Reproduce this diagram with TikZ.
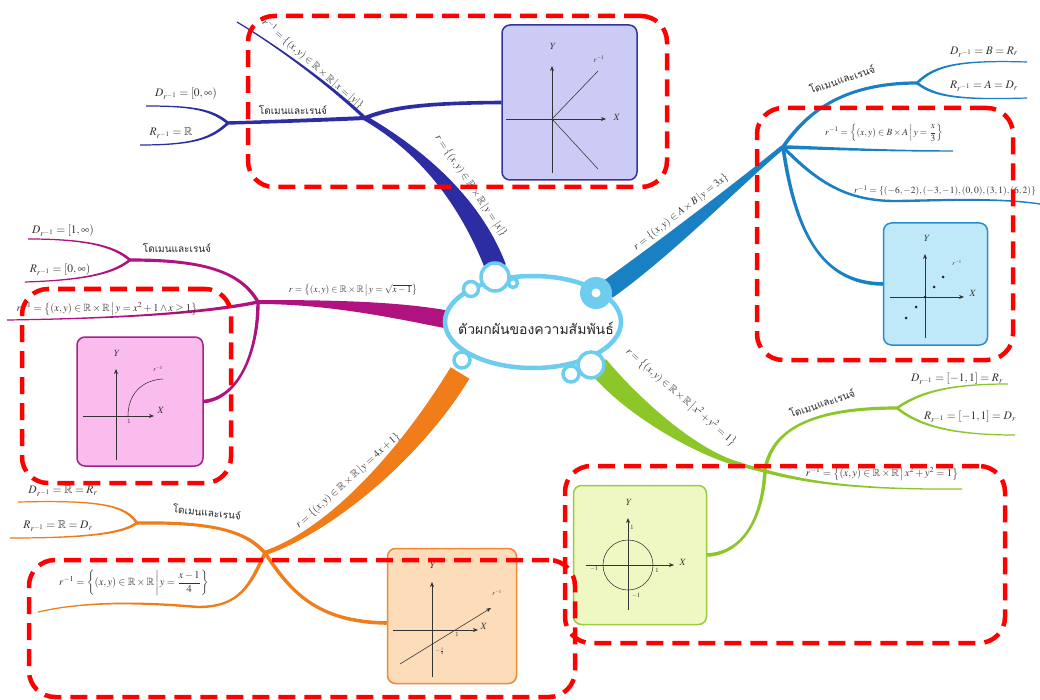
\documentclass[tikz,border=0pt]{standalone}
\usepackage{amsmath,amssymb}
\usepackage{mathptmx}
\usepackage{fontspec}
\newfontfamily\thaifont[Script=Thai]{Loma}
\usetikzlibrary{calc,arrows.meta,shapes.geometric}

\definecolor{navyC}{HTML}{2D2DA3}
\definecolor{navyBox}{HTML}{CBCBF6}
\definecolor{navyEdge}{HTML}{34349A}
\definecolor{blueC}{HTML}{1A80C4}
\definecolor{blueBox}{HTML}{BFE8F9}
\definecolor{blueEdge}{HTML}{2B8FCB}
\definecolor{magC}{HTML}{B0127F}
\definecolor{magBox}{HTML}{F9BCEC}
\definecolor{magEdge}{HTML}{A3218A}
\definecolor{orC}{HTML}{F07C1A}
\definecolor{orBox}{HTML}{FDDDB9}
\definecolor{orEdge}{HTML}{EE8A35}
\definecolor{grC}{HTML}{8CC629}
\definecolor{grBox}{HTML}{EFF8C3}
\definecolor{grEdge}{HTML}{9ACD3C}
\definecolor{cloudC}{HTML}{6CCDEF}
\definecolor{inkC}{HTML}{333333}
\definecolor{hlC}{HTML}{FF0000}

% tapering branch: colour, start, control 1, control 2, end, half width at start, half width at end
\newcommand\branchfill[7]{%
  \path ($(#2)!#6!90:(#3)$) coordinate (tA)
        ($(#2)!#6!-90:(#3)$) coordinate (tB)
        ($(#5)!#7!-90:(#4)$) coordinate (tC)
        ($(#5)!#7!90:(#4)$) coordinate (tD);
  \fill[#1] (tA) .. controls ($(#3)+(tA)-(#2)$) and ($(#4)+(tC)-(#5)$) .. (tC)
        -- (tD) .. controls ($(#4)+(tD)-(#5)$) and ($(#3)+(tB)-(#2)$) .. (tB) -- cycle;
}

\begin{document}
\begin{tikzpicture}[x=1pt,y=-1pt,
  formula/.style={text=inkC, inner sep=1pt, font=\fontsize{10.5}{12}\selectfont},
  small formula/.style={text=inkC, inner sep=1pt, font=\fontsize{9.5}{11}\selectfont},
  set formula/.style={text=inkC, inner sep=1pt, font=\fontsize{11.5}{13}\selectfont},
  thai/.style={text=black!85, inner sep=1pt, font=\thaifont\fontsize{10}{12}\selectfont},
  plotbox/.style 2 args={draw=#1, fill=#2, line width=1.5pt, rounded corners=8pt, inner sep=0pt},
  hl/.style={draw=hlC, line width=4.5pt, dash pattern=on 17pt off 9pt, rounded corners=26pt, inner sep=0pt},
  axis/.style={line width=0.7pt, draw=black!80, -{Stealth[length=5pt,width=4pt]}},
  curve/.style={line width=0.55pt, draw=black!80},
  plotlab/.style={font=\fontsize{9.5}{10}\selectfont, inner sep=0pt, text=black!80},
  ticklab/.style={font=\fontsize{6.5}{7}\selectfont, inner sep=0pt, text=black!80}]
\useasboundingbox (0,0) rectangle (1040,700);
\fill[white] (0,0) rectangle (1040,700);

% ---------- graph panels ----------
\node[plotbox={navyEdge}{navyBox}, minimum width=135pt, minimum height=155pt] (boxN) at (569.5,102.5) {};
\node[plotbox={blueEdge}{blueBox}, minimum width=104pt, minimum height=122pt] (boxB) at (935.5,284) {};
\node[plotbox={magEdge}{magBox}, minimum width=126pt, minimum height=129pt] (boxM) at (140,401.5) {};
\node[plotbox={orEdge}{orBox}, minimum width=129pt, minimum height=135pt] (boxO) at (452,616) {};
\node[plotbox={grEdge}{grBox}, minimum width=133pt, minimum height=139pt] (boxG) at (640,555) {};

% ---------- branch points ----------
\coordinate (nJ) at (365,118);   \coordinate (nBase) at (496,268);
\coordinate (nF) at (228,123);   \coordinate (nDe) at (146,106);
\coordinate (nRe) at (140,145);  \coordinate (nIe) at (237,22);

\coordinate (bJ) at (783,147);   \coordinate (bBase) at (607,290);
\coordinate (bF) at (917,83);    \coordinate (bDe) at (1027,62);
\coordinate (bRe) at (1027,98);  \coordinate (bI1) at (953,151);
\coordinate (bM) at (900,201);   \coordinate (bI2) at (1040,204);

\coordinate (mJ) at (258,302);   \coordinate (mBase) at (455,321);
\coordinate (mF) at (130,260);   \coordinate (mDe) at (28,239);
\coordinate (mRe) at (25,282);   \coordinate (mIe) at (7,320);

\coordinate (oJ) at (265,553);   \coordinate (oBase) at (460,373);
\coordinate (oF) at (137,523);   \coordinate (oDe) at (18,502);
\coordinate (oRe) at (10,538);   \coordinate (oM) at (198,607);
\coordinate (oIe) at (38,612);   \coordinate (oBx) at ($(boxO.west)+(0,7)$);

\coordinate (gJ) at (742,465);   \coordinate (gBase) at (598,366);
\coordinate (gF) at (897,408);   \coordinate (gDe) at (1008,384);
\coordinate (gRe) at (1015,435); \coordinate (gIe) at (962,489);
\coordinate (gM) at (765,470);

% ---------- navy branch ----------
\branchfill{navyC}{nJ}{420,150}{470,200}{nBase}{2.5pt}{10.5pt}
\branchfill{navyC}{nJ}{320,120}{265,122}{nF}{2pt}{1.7pt}
\branchfill{navyC}{nF}{212,110}{195,106}{nDe}{1.4pt}{0.6pt}
\branchfill{navyC}{nF}{212,138}{195,145}{nRe}{1.4pt}{0.6pt}
\branchfill{navyC}{nJ}{330,85}{280,48}{nIe}{1.6pt}{0.6pt}
\branchfill{navyC}{nJ}{390,108}{420,103}{boxN.west}{2pt}{1.8pt}

% ---------- blue branch ----------
\branchfill{blueC}{bJ}{745,178}{670,245}{bBase}{2.2pt}{9.5pt}
\branchfill{blueC}{bJ}{805,115}{840,83}{bF}{1.8pt}{1.6pt}
\branchfill{blueC}{bF}{935,65}{960,60}{bDe}{1.3pt}{0.6pt}
\branchfill{blueC}{bF}{935,97}{960,100}{bRe}{1.3pt}{0.6pt}
\branchfill{blueC}{bJ}{820,148}{880,151}{bI1}{1.8pt}{0.7pt}
\branchfill{blueC}{bJ}{820,185}{850,202}{bM}{1.6pt}{1.2pt}
\branchfill{blueC}{bM}{950,200}{1000,198}{bI2}{1.2pt}{0.7pt}
\branchfill{blueC}{bJ}{795,230}{820,283}{boxB.west}{1.8pt}{1.8pt}

% ---------- magenta branch ----------
\branchfill{magC}{mJ}{330,302}{400,310}{mBase}{2pt}{9pt}
\branchfill{magC}{mJ}{240,270}{200,260}{mF}{1.7pt}{1.6pt}
\branchfill{magC}{mF}{115,247}{90,239}{mDe}{1.3pt}{0.6pt}
\branchfill{magC}{mF}{115,272}{90,280}{mRe}{1.3pt}{0.6pt}
\branchfill{magC}{mJ}{220,310}{150,318}{mIe}{1.7pt}{0.6pt}
\branchfill{magC}{mJ}{258,350}{240,398}{boxM.east}{1.7pt}{1.8pt}

% ---------- orange branch ----------
\branchfill{orC}{oJ}{332,530}{412,452}{oBase}{2.2pt}{11pt}
\branchfill{orC}{oJ}{245,530}{210,522}{oF}{1.8pt}{1.6pt}
\branchfill{orC}{oF}{125,505}{100,500}{oDe}{1.3pt}{0.6pt}
\branchfill{orC}{oF}{123,533}{90,538}{oRe}{1.3pt}{0.6pt}
\branchfill{orC}{oJ}{250,585}{240,607}{oM}{1.8pt}{1.2pt}
\branchfill{orC}{oM}{150,603}{90,600}{oIe}{1.2pt}{0.6pt}
\branchfill{orC}{oJ}{290,590}{315,622}{oBx}{1.8pt}{1.8pt}

% ---------- green branch ----------
\branchfill{grC}{gJ}{700,455}{635,410}{gBase}{2.2pt}{10.5pt}
\branchfill{grC}{gJ}{790,478}{830,490}{gIe}{1.8pt}{0.6pt}
\branchfill{grC}{gM}{772,430}{810,408}{gF}{1.8pt}{1.6pt}
\branchfill{grC}{gM}{763,515}{745,553}{boxG.east}{1.8pt}{1.8pt}
\branchfill{grC}{gF}{920,392}{950,384}{gDe}{1.3pt}{0.6pt}
\branchfill{grC}{gF}{918,425}{950,435}{gRe}{1.3pt}{0.6pt}

% ---------- plots ----------
% y = |x| inverse
\draw[axis] (506,119) -- (606,119);
\draw[axis] (552,173) -- (552,66);
\draw[curve] (598,71) -- (552,119) -- (598,169);
\node[plotlab] at (553,46) {$Y$};
\node[plotlab] at (617,117) {$X$};
\node[plotlab, font=\fontsize{7.5}{8}\selectfont] at (599,59) {$r^{-1}$};

% finite set
\draw[axis] (890,297) -- (964,297);
\draw[axis] (925,338) -- (925,254);
\foreach \p in {(943,277),(934,287),(925,297),(916,307),(906,318)}
  \fill[black!85] \p circle[radius=1.5pt];
\node[plotlab] at (927,238) {$Y$};
\node[plotlab] at (973,293) {$X$};
\node[plotlab, font=\fontsize{6.5}{7}\selectfont] at (957,263) {$r^{-1}$};

% square root branch
\draw[axis] (83,416) -- (154,416);
\draw[axis] (116,460) -- (116,369);
\draw[curve] (128,416) .. controls (128,394) and (142,380) .. (163,379);
\node[plotlab] at (117,353) {$Y$};
\node[plotlab] at (161,410) {$X$};
\node[plotlab, font=\fontsize{6.5}{7}\selectfont] at (158,369) {$r^{-1}$};
\node[ticklab] at (129,421) {1};

% straight line
\draw[axis] (393,630) -- (478,630);
\draw[axis] (432,677) -- (432,582);
\draw[line width=0.6pt, draw=black!80, -{Stealth[length=5pt,width=4pt]}] (400,664) -- (491,608);
\node[plotlab] at (433,565) {$Y$};
\node[plotlab] at (484,626) {$X$};
\node[plotlab, font=\fontsize{6.5}{7}\selectfont] at (497,593) {$r^{-1}$};
\node[ticklab] at (457,634) {1};
\node[ticklab, font=\fontsize{5.5}{6}\selectfont] at (440,651) {$-\frac{1}{4}$};

% unit circle
\draw[axis] (586,565) -- (674,565);
\draw[axis] (628,610) -- (628,518);
\draw[curve] (628,565) circle[radius=25pt];
\node[plotlab] at (629,502) {$Y$};
\node[plotlab] at (683,562) {$X$};
\node[ticklab] at (632,527) {1};
\node[ticklab] at (594,569) {$-1$};
\node[ticklab] at (657,570) {1};
\node[ticklab] at (636,596) {$-1$};

% ---------- central topic ----------
\node[draw=cloudC, fill=white, line width=4.5pt, ellipse, minimum width=176pt, minimum height=92pt] (hub) at (533,322) {};
\foreach \c/\r in {{(495,277)}/14, {(471,289)}/7.5, {(513,283)}/4.5, {(462,360)}/8, {(591,365)}/13, {(571,374)}/8}
  \draw[draw=cloudC, fill=white, line width=3.5pt] \c circle[radius=\r pt];
\fill[cloudC] (596,293) circle[radius=16pt];
\fill[white] (596,293) circle[radius=4.5pt];
\node[font=\thaifont\fontsize{14}{16}\selectfont, text=black!85] (hubLabel) at (536,328) {ตัวผกผันของความสัมพันธ์};

% ---------- labels: navy ----------
\node[formula, rotate=-56] (nMainL) at (471,186) {$r=\left\{(x,y)\in\mathbb{R}\times\mathbb{R}\,\middle|\,y=|x|\right\}$};
\node[thai] (nDomL) at (293,110) {โดเมนและเรนจ์};
\node[set formula] (nDL) at (186,94) {$D_{r^{-1}}=[0,\infty)$};
\node[set formula] (nRL) at (171,133) {$R_{r^{-1}}=\mathbb{R}$};
\node[formula, rotate=-41] (nInvL) at (313,64) {$r^{-1}=\left\{(x,y)\in\mathbb{R}\times\mathbb{R}\,\middle|\,x=|y|\right\}$};

% ---------- labels: blue ----------
\node[formula, rotate=38] (bMainL) at (681,212) {$r=\left\{(x,y)\in A\times B\,\middle|\,y=3x\right\}$};
\node[thai, rotate=18] (bDomL) at (842,79) {โดเมนและเรนจ์};
\node[set formula] (bDL) at (984,52) {$D_{r^{-1}}=B=R_r$};
\node[set formula] (bRL) at (984,86) {$R_{r^{-1}}=A=D_r$};
\node[small formula] (bI1L) at (884,133) {$r^{-1}=\left\{(x,y)\in B\times A\,\middle|\,y=\dfrac{x}{3}\right\}$};
\node[small formula, anchor=west] (bI2L) at (853,191) {$r^{-1}=\{(-6,-2),(-3,-1),(0,0),(3,1),(6,2)\}$};

% ---------- labels: magenta ----------
\node[small formula] (mMainL) at (353,290) {$r=\left\{(x,y)\in\mathbb{R}\times\mathbb{R}\,\middle|\,y=\sqrt{x-1}\right\}$};
\node[thai] (mDomL) at (177,248) {โดเมนและเรนจ์};
\node[set formula] (mDL) at (63,231) {$D_{r^{-1}}=[1,\infty)$};
\node[set formula] (mRL) at (60,270) {$R_{r^{-1}}=[0,\infty)$};
\node[formula] (mInvL) at (107,309) {$r^{-1}=\left\{(x,y)\in\mathbb{R}\times\mathbb{R}\,\middle|\,y=x^2+1\wedge x\geq 1\right\}$};

% ---------- labels: orange ----------
\node[formula, rotate=42] (oMainL) at (348,481) {$r=\left\{(x,y)\in\mathbb{R}\times\mathbb{R}\,\middle|\,y=4x+1\right\}$};
\node[thai, rotate=-6] (oDomL) at (207,512) {โดเมนและเรนจ์};
\node[set formula] (oDL) at (63,491) {$D_{r^{-1}}=\mathbb{R}=R_r$};
\node[set formula] (oRL) at (58,526) {$R_{r^{-1}}=\mathbb{R}=D_r$};
\node[formula] (oInvL) at (134,583) {$r^{-1}=\left\{(x,y)\in\mathbb{R}\times\mathbb{R}\,\middle|\,y=\dfrac{x-1}{4}\right\}$};

% ---------- labels: green ----------
\node[formula, rotate=-41] (gMainL) at (681,397) {$r=\left\{(x,y)\in\mathbb{R}\times\mathbb{R}\,\middle|\,x^2+y^2=1\right\}$};
\node[thai, rotate=18] (gDomL) at (822,403) {โดเมนและเรนจ์};
\node[set formula] (gDL) at (957,379) {$D_{r^{-1}}=[-1,1]=R_r$};
\node[set formula] (gRL) at (970,417) {$R_{r^{-1}}=[-1,1]=D_r$};
\node[formula] (gInvL) at (882,474) {$r^{-1}=\left\{(x,y)\in\mathbb{R}\times\mathbb{R}\,\middle|\,x^2+y^2=1\right\}$};

% ---------- highlight frames ----------
\node[hl, minimum width=419pt, minimum height=171pt] (hlN) at (457.5,101.5) {};
\node[hl, minimum width=256pt, minimum height=252pt] (hlB) at (885,234) {};
\node[hl, minimum width=209pt, minimum height=194pt] (hlM) at (126.5,386) {};
\node[hl, minimum width=440pt, minimum height=177pt] (hlG) at (785,554.5) {};
\node[hl, minimum width=546pt, minimum height=137pt] (hlO) at (302,628.5) {};
\end{tikzpicture}
\end{document}
